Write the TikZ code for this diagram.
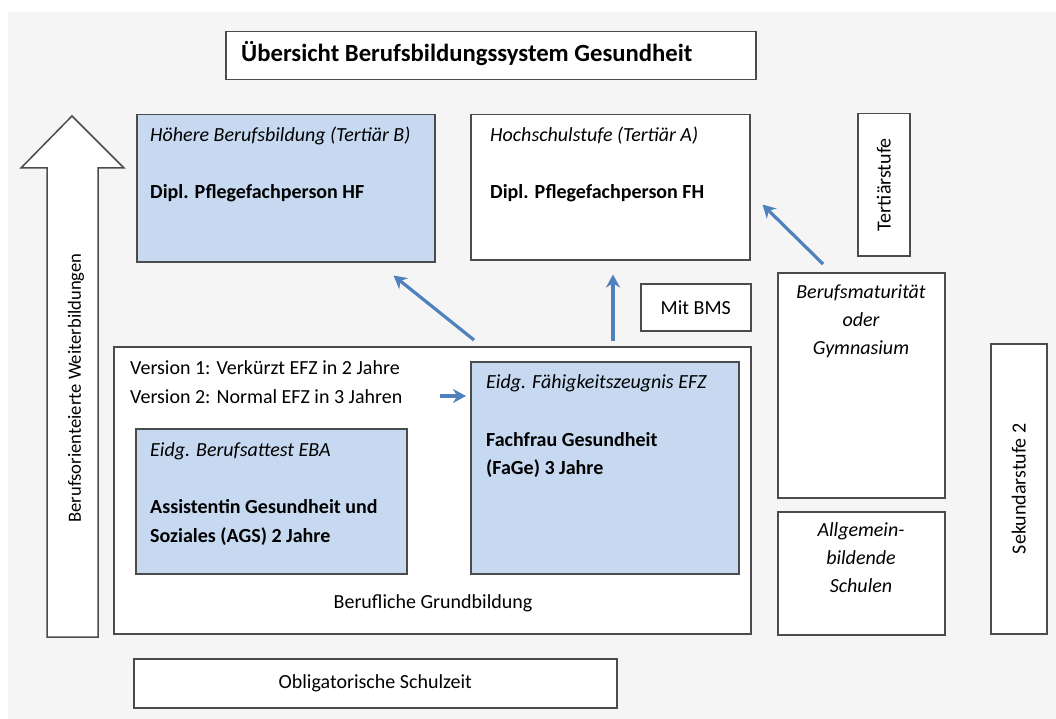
\documentclass[tikz,border=0pt]{standalone}
\usepackage{fontspec}
\setmainfont{Carlito}
\usetikzlibrary{arrows.meta, calc, positioning}

\definecolor{boxblue}{RGB}{198,217,241}
\definecolor{flowblue}{RGB}{79,129,189}
\definecolor{frame}{RGB}{75,75,75}
\definecolor{backdrop}{RGB}{245,245,245}

\tikzset{
	box/.style={draw=frame, line width=1.5pt, fill=white, anchor=north west, inner sep=0pt},
	bluebox/.style={box, fill=boxblue},
	txt/.style={anchor=base west, inner sep=0pt, font=\fontsize{20}{28}\selectfont},
	flow/.style={-{Stealth[length=13pt, width=14pt]}, flowblue, line width=3.2pt},
}

\begin{document}
\begin{tikzpicture}[x=1pt, y=-1pt, >=Stealth]
	\useasboundingbox (0,0) rectangle (1056,719);
	\fill[backdrop] (8,12) rectangle (1056,719);

	% title
	\node[box, minimum width=530, minimum height=48] (title) at (225,31) {};
	\node[txt, font=\fontsize{24.7}{29}\selectfont\bfseries] (titletext) at (241,62) {Übersicht Berufsbildungssystem Gesundheit};

	% weiterbildung arrow
	\draw[frame, line width=1.5pt, fill=white] (47,637) -- (47,168) -- (21,168) -- (72,116) -- (124,168) -- (98,168) -- (98,637) -- cycle;
	\node[txt, anchor=center, rotate=90, font=\fontsize{18.6}{22}\selectfont] (weiter) at (76,388) {Berufsorienteierte Weiterbildungen};

	% tertiaer
	\node[bluebox, minimum width=298, minimum height=147] (hf) at (136,114) {};
	\node[txt, font=\fontsize{20}{28}\selectfont\itshape] (hftitle) at (150,142) {Höhere Berufsbildung (Tertiär B)};
	\node[txt, font=\fontsize{20}{28}\selectfont\bfseries] (hfname) at (150,199) {Dipl. Pflegefachperson HF};

	\node[box, minimum width=279, minimum height=145] (fh) at (470,114) {};
	\node[txt, font=\fontsize{20}{28}\selectfont\itshape] (fhtitle) at (490,142) {Hochschulstufe (Tertiär A)};
	\node[txt, font=\fontsize{20}{28}\selectfont\bfseries] (fhname) at (490,199) {Dipl. Pflegefachperson FH};

	\node[box, minimum width=52, minimum height=142] (tertiaer) at (857,113) {};
	\node[txt, anchor=center, rotate=90] (tertiaertext) at (tertiaer.center) {Tertiärstufe};

	\node[box, minimum width=110, minimum height=47] (bms) at (640,283) {};
	\node[txt, anchor=center] (bmstext) at (bms.center) {Mit BMS};

	% sekundarstufe
	\node[box, minimum width=167, minimum height=225] (matur) at (777,272) {};
	\node[txt, anchor=north, align=center, font=\fontsize{20}{28}\selectfont\itshape] (maturtext) at (861,285) {Berufsmaturität\\oder\\Gymnasium};

	\node[box, minimum width=167, minimum height=123] (allg) at (777,511) {};
	\node[txt, anchor=north, align=center, font=\fontsize{20}{28}\selectfont\itshape] (allgtext) at (861,522) {Allgemein-\\bildende\\Schulen};

	\node[box, minimum width=56, minimum height=290] (sek) at (990,343) {};
	\node[txt, anchor=center, rotate=90] (sektext) at (sek.center) {Sekundarstufe 2};

	\node[box, minimum width=637, minimum height=287] (grund) at (113,346) {};
	\node[txt] (versionone) at (130,374) {Version 1: Verkürzt EFZ in 2 Jahre};
	\node[txt] (versiontwo) at (130,403) {Version 2: Normal EFZ in 3 Jahren};
	\node[txt, anchor=base] (grundtext) at (433,608) {Berufliche Grundbildung};

	\node[bluebox, minimum width=271, minimum height=145] (eba) at (135,428) {};
	\node[txt, font=\fontsize{20}{28}\selectfont\itshape] (ebatitle) at (150,456) {Eidg. Berufsattest EBA};
	\node[txt, font=\fontsize{20}{28}\selectfont\bfseries] (agsone) at (150,513) {Assistentin Gesundheit und};
	\node[txt, font=\fontsize{20}{28}\selectfont\bfseries] (agstwo) at (150,542) {Soziales (AGS) 2 Jahre};

	\node[bluebox, minimum width=268, minimum height=212] (efz) at (470,361) {};
	\node[txt, font=\fontsize{20}{28}\selectfont\itshape] (efztitle) at (486,388) {Eidg. Fähigkeitszeugnis EFZ};
	\node[txt, font=\fontsize{20}{28}\selectfont\bfseries] (fageone) at (486,446) {Fachfrau Gesundheit};
	\node[txt, font=\fontsize{20}{28}\selectfont\bfseries] (fagetwo) at (486,474) {(FaGe) 3 Jahre};

	\node[box, minimum width=483, minimum height=49] (oblig) at (133,658) {};
	\node[txt, anchor=center] (obligtext) at (oblig.center) {Obligatorische Schulzeit};

	% arrows
	\draw[flow] ($(grund.north west)+(361,-6)$) -- ($(hf.south east)+(-42,13)$);
	\draw[flow] ($(grund.north west)+(500,-5)$) -- ($(fh.south west)+(143,14)$);
	\draw[flow] ($(matur.north west)+(46,-8)$) -- ($(fh.south east)+(12,-56)$);
	\draw[flow] ($(efz.north west)+(-30,35)$) -- ($(efz.north west)+(-4,35)$);
\end{tikzpicture}
\end{document}
